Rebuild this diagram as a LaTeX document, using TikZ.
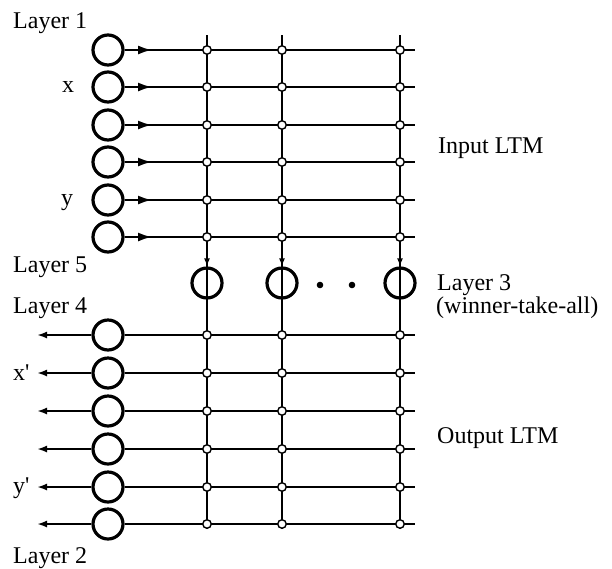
\documentclass[tikz,border=0pt]{standalone}
\usepackage{fontspec}
\setmainfont{Liberation Serif}
\usetikzlibrary{arrows.meta}
\begin{document}
\begin{tikzpicture}[x=1pt,y=-1pt,
  neuron/.style={circle,draw,line width=3.2pt,minimum size=30pt,inner sep=0pt},
  junc/.style={circle,draw,fill=white,line width=1.4pt,minimum size=8.5pt,inner sep=0pt},
  wire/.style={line width=2.1pt},
  lbl/.style={font=\fontsize{24}{24}\selectfont,inner sep=0pt,anchor=base west},
  inarrow/.style={wire,-{Latex[length=14pt,width=9pt]}},
  downarrow/.style={line width=1.8pt,-{Latex[length=8pt,width=6pt]}},
  outarrow/.style={wire,-{Latex[length=10pt,width=7pt]}}]
\useasboundingbox (0,0) rectangle (612,568);
% column coordinates
\foreach \c/\x in {1/207,2/282,3/400}{
  \coordinate (top\c) at (\x,35);
  \coordinate (bot\c) at (\x,529);
  \node[neuron] (w\c) at (\x,283) {};
}
% input rows
\foreach \r/\y in {1/50,2/87,3/125,4/162,5/200,6/237}{
  \node[neuron] (in\r) at (108,\y) {};
  \coordinate (ie\r) at (415,\y);
  \coordinate (ia\r) at (152,\y);
}
% output rows
\foreach \r/\y in {1/335,2/373,3/411,4/449,5/487,6/524}{
  \node[neuron] (out\r) at (108,\y) {};
  \coordinate (oe\r) at (415,\y);
  \coordinate (oa\r) at (37,\y);
}
% vertical wires
\foreach \c in {1,2,3}{
  \draw[wire] (top\c) -- (w\c.north);
  \draw[downarrow] (top\c) -- (w\c.north);
  \draw[wire] (w\c.north) -- (bot\c);
}
% horizontal wires
\foreach \r in {1,...,6}{
  \draw[wire] (in\r.east) -- (ie\r);
  \draw[inarrow] (in\r.east) -- (ia\r);
  \draw[wire] (out\r.east) -- (oe\r);
  \draw[outarrow] (out\r.west) -- (oa\r);
}
% junctions
\foreach \c/\x in {1/207,2/282,3/400}{
  \foreach \r/\y in {1/50,2/87,3/125,4/162,5/200,6/237}{
    \node[junc] (ij\c\r) at (\x,\y) {};
  }
  \foreach \r/\y in {1/335,2/373,3/411,4/449,5/487,6/524}{
    \node[junc] (oj\c\r) at (\x,\y) {};
  }
}
% dots
\fill (320,285) circle (3.3pt);
\fill (352,285) circle (3.3pt);
% labels
\node[lbl] (l1) at (13,28) {Layer 1};
\node[lbl] (lx) at (62,92) {x};
\node[lbl] (ly) at (61,205) {y};
\node[lbl] (l5) at (13,272) {Layer 5};
\node[lbl] (l4) at (13,313) {Layer 4};
\node[lbl] (lxp) at (13,380) {x\textquotesingle};
\node[lbl] (lyp) at (13,493) {y\textquotesingle};
\node[lbl] (l2) at (13,563) {Layer 2};
\node[lbl] (lin) at (438,153) {Input LTM};
\node[lbl] (l3) at (437,290) {Layer 3};
\node[lbl] (lw) at (436,313) {(winner-take-all)};
\node[lbl] (lout) at (437,443) {Output LTM};
\end{tikzpicture}
\end{document}
